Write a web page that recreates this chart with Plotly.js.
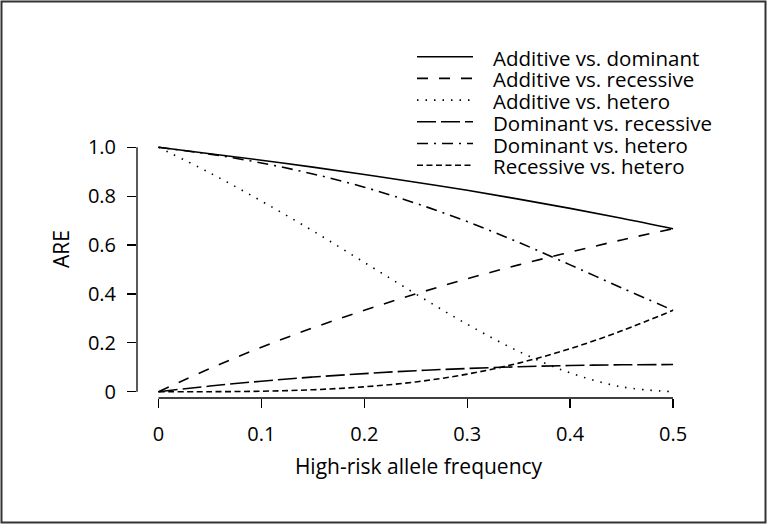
<!DOCTYPE html>
<html>
<head>
<meta charset="utf-8">
<script src="https://cdn.plot.ly/plotly-3.0.1.min.js"></script>
<style>
  html, body { margin: 0; padding: 0; background: #fff; }
  #chart { width: 768px; height: 525px; }
</style>
</head>
<body>
<div id="chart"></div>
<script>
// high-risk allele frequency
const FREQ = [0, 0.05, 0.1, 0.15, 0.2, 0.25, 0.3, 0.35, 0.4, 0.45, 0.5];

// ARE for each pair of trend tests
const ADD_DOM = [1, 0.974, 0.947, 0.919, 0.889, 0.857, 0.824, 0.788, 0.750, 0.710, 0.667];
const ADD_REC = [0, 0.095, 0.182, 0.261, 0.333, 0.400, 0.462, 0.519, 0.571, 0.621, 0.667];
const ADD_HET = [1, 0.895, 0.780, 0.658, 0.529, 0.400, 0.276, 0.165, 0.077, 0.020, 0];
const DOM_REC = [0, 0.023, 0.043, 0.060, 0.074, 0.086, 0.095, 0.102, 0.107, 0.110, 0.111];
const DOM_HET = [1, 0.972, 0.936, 0.891, 0.837, 0.771, 0.696, 0.611, 0.519, 0.425, 0.333];
const REC_HET = [0, 0.000, 0.002, 0.008, 0.020, 0.040, 0.072, 0.117, 0.176, 0.249, 0.333];

const SERIES_NAMES = [
  "Additive vs. dominant",
  "Additive vs. recessive",
  "Additive vs. hetero",
  "Dominant vs. recessive",
  "Dominant vs. hetero",
  "Recessive vs. hetero"
];
const SERIES_VALUES = [ADD_DOM, ADD_REC, ADD_HET, DOM_REC, DOM_HET, REC_HET];

const X_TICKS = [0, 0.1, 0.2, 0.3, 0.4, 0.5];
const X_TICK_TEXT = ["0", "0.1", "0.2", "0.3", "0.4", "0.5"];
const Y_TICKS = [0, 0.2, 0.4, 0.6, 0.8, 1.0];
const Y_TICK_TEXT = ["0", "0.2", "0.4", "0.6", "0.8", "1.0"];

// line styles, R-like lty 1..6
const DASHES = ["solid", "11px,11px", "1.5px,7px", "19px,5px", "11px,6px,2px,6px", "6px,3.5px"];

const W = 768, H = 525;
const M = { l: 137, r: 68, t: 100, b: 127 };
const FONT = "'Open Sans', 'Liberation Sans', sans-serif";

function px(x) { return (x - M.l) / (W - M.l - M.r); }
function py(y) { return (H - M.b - y) / (H - M.t - M.b); }

const traces = SERIES_VALUES.map(function(vals, i) {
  return {
    x: FREQ,
    y: vals,
    type: "scatter",
    mode: "lines",
    name: SERIES_NAMES[i],
    showlegend: false,
    hoverinfo: "skip",
    line: { color: "#000", width: 1.6, dash: DASHES[i], shape: "spline", smoothing: 1 }
  };
});

const shapes = [
  // axis lines only span the tick range, like base R
  { type: "line", xref: "x", yref: "paper", x0: 0, x1: 0.5, y0: 0, y1: 0, line: { color: "#000", width: 1.3 } },
  { type: "line", xref: "paper", yref: "y", x0: 0, x1: 0, y0: 0, y1: 1, line: { color: "#000", width: 1.3 } },
  // outer frame
  { type: "rect", xref: "paper", yref: "paper", x0: px(1.5), x1: px(765.5), y0: py(522.5), y1: py(1.5),
    line: { color: "#333", width: 2 } }
];

const annotations = [];
const LEG_X0 = 417, LEG_X1 = 473, LEG_TEXT_X = 491, LEG_Y0 = 56.7, LEG_STEP = 21.7;
SERIES_NAMES.forEach(function(name, i) {
  const rowY = LEG_Y0 + i * LEG_STEP;
  shapes.push({
    type: "line", xref: "paper", yref: "paper",
    x0: px(LEG_X0), x1: px(LEG_X1), y0: py(rowY), y1: py(rowY),
    line: { color: "#000", width: 1.6, dash: DASHES[i] }
  });
  annotations.push({
    xref: "paper", yref: "paper", x: px(LEG_TEXT_X), y: py(rowY + 1),
    xanchor: "left", yanchor: "middle", showarrow: false,
    text: name, font: { family: FONT, size: 20.5, color: "#000" }
  });
});

const layout = {
  width: W,
  height: H,
  margin: M,
  paper_bgcolor: "#fff",
  plot_bgcolor: "#fff",
  font: { family: FONT, color: "#000", size: 20 },
  showlegend: false,
  xaxis: {
    range: [-0.0209, 0.5262],
    tickvals: X_TICKS,
    ticktext: X_TICK_TEXT,
    ticks: "outside",
    ticklen: 9,
    tickwidth: 1.3,
    tickcolor: "#000",
    ticklabelstandoff: 9,
    showline: false,
    showgrid: false,
    zeroline: false,
    tickfont: { size: 20 },
    title: { text: "High-risk allele frequency", font: { size: 21 }, standoff: 13 }
  },
  yaxis: {
    range: [-0.0258, 1.1936],
    tickvals: Y_TICKS,
    ticktext: Y_TICK_TEXT,
    ticks: "outside",
    ticklen: 9,
    tickwidth: 1.3,
    tickcolor: "#000",
    ticklabelstandoff: 7,
    showline: false,
    showgrid: false,
    zeroline: false,
    tickfont: { size: 20 },
    title: { text: "ARE", font: { size: 21 }, standoff: 12 }
  },
  shapes: shapes,
  annotations: annotations
};

Plotly.newPlot("chart", traces, layout, { displayModeBar: false, staticPlot: true });
</script>
</body>
</html>
